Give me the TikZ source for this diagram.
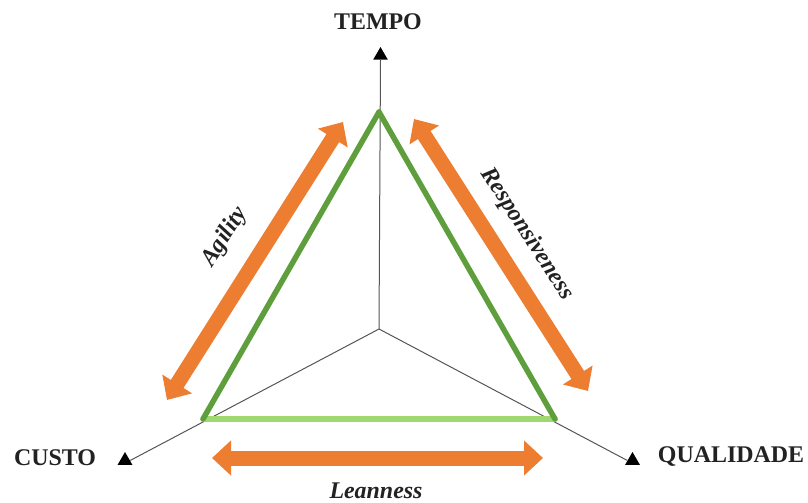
\documentclass[tikz,border=0pt]{standalone}
\usepackage{fontspec}
\setmainfont{Liberation Serif}
\usetikzlibrary{arrows.meta,shapes.geometric}
\definecolor{orng}{HTML}{ED7D31}
\definecolor{gside}{HTML}{5E9E3C}
\definecolor{gbase}{HTML}{9FD86E}
\definecolor{axisgray}{HTML}{555555}
\definecolor{txt}{HTML}{222222}
\tikzset{
  axisline/.style={draw=axisgray, line width=1bp},
  axistip/.style={regular polygon, regular polygon sides=3, fill=black, inner sep=0pt, minimum size=17bp},
  axislabel/.style={font=\fontsize{24}{28}\selectfont\bfseries, text=txt, inner sep=0pt},
  dimlabel/.style={font=\fontsize{24}{28}\selectfont\bfseries\itshape, text=txt, inner sep=0pt},
  doublearrow/.style={draw=orng, line width=15bp, {Triangle[width=34bp,length=19bp]}-{Triangle[width=34bp,length=19bp]}},
  sideline/.style={draw=gside, line width=5.5bp, line cap=round},
  baseline/.style={draw=gbase, line width=5.5bp, line cap=round}
}
\begin{document}
\begin{tikzpicture}[x=1bp,y=-1bp]
\useasboundingbox (0,0) rectangle (808,503);
% axes
\coordinate (o) at (379,329);
\node[axistip] (tt) at (380.5,55.5) {};
\node[axistip] (tl) at (125,460.5) {};
\node[axistip] (tr) at (632.5,460.5) {};
\draw[axisline] (o) -- (tt.south);
\draw[axisline] (o) -- (tl.east);
\draw[axisline] (o) -- (tr.west);
% labels
\node[axislabel] (tempo) at (378,22) {TEMPO};
\node[axislabel] (custo) at (55,458) {CUSTO};
\node[axislabel] (qual) at (731,457) {QUALIDADE};
% triangle
\coordinate (vt) at (379,112);
\coordinate (vl) at (203,419);
\coordinate (vr) at (555,419);
\draw[baseline] (vl) -- (vr);
\draw[sideline] (vl) -- (vt);
\draw[sideline] (vt) -- (vr);
% orange arrows
\coordinate (al1) at (167,400);
\coordinate (al2) at (343,122);
\coordinate (ar1) at (414,119);
\coordinate (ar2) at (588,391);
\coordinate (ab1) at (212,458);
\coordinate (ab2) at (543,458);
\draw[doublearrow] (al1) -- (al2);
\draw[doublearrow] (ar1) -- (ar2);
\draw[doublearrow] (ab1) -- (ab2);
% dimension labels
\node[dimlabel, rotate=57.5] (agil) at (225,237) {Agility};
\node[dimlabel, rotate=-57] (resp) at (527,234) {Responsiveness};
\node[dimlabel] (lean) at (376,491) {Leanness};
\end{tikzpicture}
\end{document}
